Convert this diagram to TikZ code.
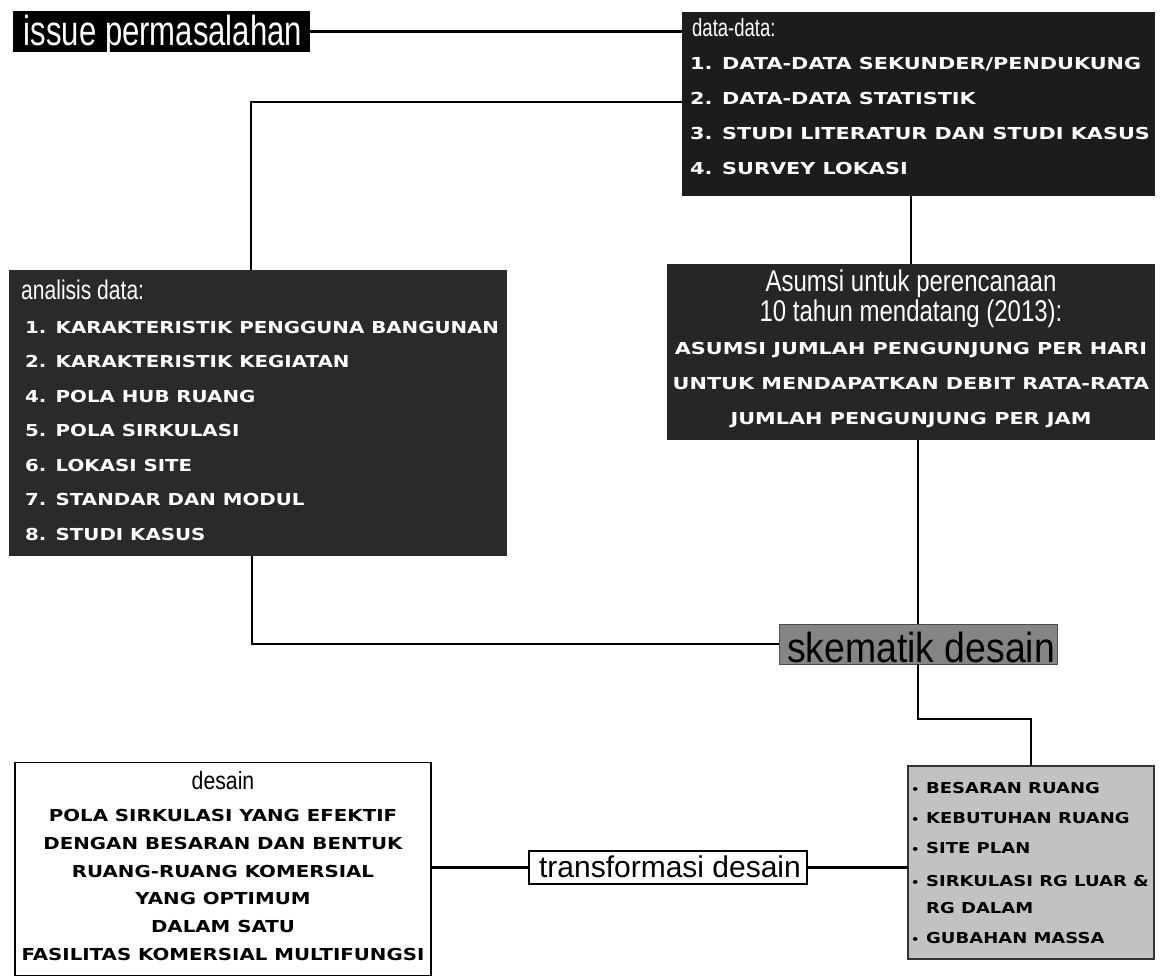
\documentclass[tikz,border=0pt]{standalone}
\usepackage{fontspec}
\usepackage{graphicx}
\setmainfont{Liberation Sans}
\newfontfamily\capsf[FakeStretch=1.2]{DejaVu Sans}
\newfontfamily\capsw[FakeStretch=1.26]{DejaVu Sans}
\newcommand{\nar}[2]{\scalebox{#1}[1]{#2}}
\newcommand{\bul}{\makebox[15pt][l]{\fontsize{11}{11}\selectfont •}}
\definecolor{boxA}{HTML}{1C1C1C}
\definecolor{boxB}{HTML}{2A2A2A}
\definecolor{boxC}{HTML}{262626}
\definecolor{midgray}{HTML}{858585}
\definecolor{lightgray}{HTML}{C2C2C2}
\begin{document}
\begin{tikzpicture}[x=1pt,y=-1pt,
  box/.style={inner sep=0pt, outer sep=0pt},
  framed/.style={box, draw=black, line width=1.4pt},
  conn/.style={line width=2.4pt, black},
  capw/.style={anchor=base west, inner sep=0pt, text=white, font=\capsf\bfseries\fontsize{16.5}{16.5}\selectfont},
  capww/.style={anchor=base west, inner sep=0pt, text=white, font=\capsw\bfseries\fontsize{16.5}{16.5}\selectfont},
  capc/.style={anchor=base, inner sep=0pt, font=\capsf\bfseries\fontsize{16.5}{16.5}\selectfont},
  capcw/.style={anchor=base, inner sep=0pt, font=\capsw\bfseries\fontsize{16.5}{16.5}\selectfont},
  capb/.style={anchor=base west, inner sep=0pt, text=black, font=\capsf\bfseries\fontsize{15}{15}\selectfont},
  narw/.style={inner sep=0pt, text=white},
]
\useasboundingbox (0,0) rectangle (1161,977);

% boxes
\node[box, fill=black, minimum width=297pt, minimum height=41pt] (issue) at (161.5,31.5) {};
\node[box, fill=boxA, minimum width=473pt, minimum height=184pt] (data) at (918.5,104) {};
\node[box, fill=boxB, minimum width=498pt, minimum height=286pt] (analisis) at (258,413) {};
\node[box, fill=boxC, minimum width=488pt, minimum height=176pt] (asumsi) at (911,352) {};
\node[box, fill=midgray, draw=black!70, line width=1pt, minimum width=278pt, minimum height=40pt] (skematik) at (918,644) {};
\node[box, fill=lightgray, draw=black!80, line width=1.2pt, minimum width=246pt, minimum height=193pt] (bullet) at (1031,862.5) {};
\node[framed, fill=white, minimum width=416pt, minimum height=213pt] (desain) at (223,869) {};
\node[framed, fill=white, minimum width=278pt, minimum height=33pt] (trans) at (668,867.5) {};

% connectors
\coordinate (c1) at (251,102);
\coordinate (c2) at (252,644);
\draw[conn] (issue.east) -- (issue.east -| data.west);
\draw[conn] (c1 -| data.west) -- (c1) -- (c1 |- analisis.north);
\draw[conn] (asumsi.north) -- (asumsi.north |- data.south);
\draw[conn] (skematik.north) -- (skematik.north |- asumsi.south);
\draw[conn] (c2 |- analisis.south) -- (c2) -- (skematik.west);
\draw[conn] (skematik.south) -- ++(0,55) -| (bullet.north);
\draw[conn] (trans.west -| desain.east) -- (trans.west);
\draw[conn] (trans.east) -- (trans.east -| bullet.west);

% issue
\node[narw, anchor=base, font=\fontsize{42}{42}\selectfont] (tIssue) at (163,45) {\nar{0.74}{issue permasalahan}};

% data-data
\node[narw, anchor=base west, font=\fontsize{25}{25}\selectfont] (tData) at (692,36) {\nar{0.74}{data-data:}};
\node[capww] (d1) at (690,69) {1. DATA-DATA SEKUNDER/PENDUKUNG};
\node[capww] (d2) at (690,104) {2. DATA-DATA STATISTIK};
\node[capww] (d3) at (690,139) {3. STUDI LITERATUR DAN STUDI KASUS};
\node[capww] (d4) at (690,174) {4. SURVEY LOKASI};

% analisis
\node[narw, anchor=base west, font=\fontsize{27}{27}\selectfont] (tAn) at (21,299) {\nar{0.78}{analisis data:}};
\node[capw] (a1) at (25,333) {1. KARAKTERISTIK PENGGUNA BANGUNAN};
\node[capw] (a2) at (25,367.5) {2. KARAKTERISTIK KEGIATAN};
\node[capw] (a3) at (25,402) {4. POLA HUB RUANG};
\node[capw] (a4) at (25,436.5) {5. POLA SIRKULASI};
\node[capw] (a5) at (25,471) {6. LOKASI SITE};
\node[capw] (a6) at (25,505.5) {7. STANDAR DAN MODUL};
\node[capw] (a7) at (25,540) {8. STUDI KASUS};

% asumsi
\node[narw, anchor=base, font=\fontsize{30}{30}\selectfont] (tAs1) at (911,291) {\nar{0.80}{Asumsi untuk perencanaan}};
\node[narw, anchor=base, font=\fontsize{30}{30}\selectfont] (tAs2) at (911,321) {\nar{0.80}{10 tahun mendatang (2013):}};
\node[capcw, text=white] (s1) at (911,354) {ASUMSI JUMLAH PENGUNJUNG PER HARI};
\node[capcw, text=white] (s2) at (911,389) {UNTUK MENDAPATKAN DEBIT RATA-RATA};
\node[capcw, text=white] (s3) at (911,424) {JUMLAH PENGUNJUNG PER JAM};

% skematik
\node[inner sep=0pt, anchor=base, text=black, font=\fontsize{42}{42}\selectfont] (tSk) at (921,662) {\nar{0.89}{skematik desain}};

% bullet list
\node[capb] (b1) at (911,793) {\bul BESARAN RUANG};
\node[capb] (b2) at (911,823) {\bul KEBUTUHAN RUANG};
\node[capb] (b3) at (911,853) {\bul SITE PLAN};
\node[capb] (b4) at (911,886) {\bul SIRKULASI RG LUAR \&};
\node[capb] (b5) at (911,913) {\makebox[15pt][l]{}RG DALAM};
\node[capb] (b6) at (911,943) {\bul GUBAHAN MASSA};

% transformasi
\node[inner sep=0pt, anchor=base, text=black, font=\fontsize{30}{30}\selectfont] (tTr) at (670,877) {transformasi desain};

% desain
\node[inner sep=0pt, anchor=base, text=black, font=\fontsize{25}{25}\selectfont] (tDe) at (223,789) {\nar{0.85}{desain}};
\node[capc, text=black] (e1) at (223,821) {POLA SIRKULASI YANG EFEKTIF};
\node[capc, text=black] (e2) at (223,849) {DENGAN BESARAN DAN BENTUK};
\node[capc, text=black] (e3) at (223,877) {RUANG-RUANG KOMERSIAL};
\node[capc, text=black] (e4) at (223,904) {YANG OPTIMUM};
\node[capc, text=black] (e5) at (223,932) {DALAM SATU};
\node[capc, text=black] (e6) at (223,960) {FASILITAS KOMERSIAL MULTIFUNGSI};
\end{tikzpicture}
\end{document}
